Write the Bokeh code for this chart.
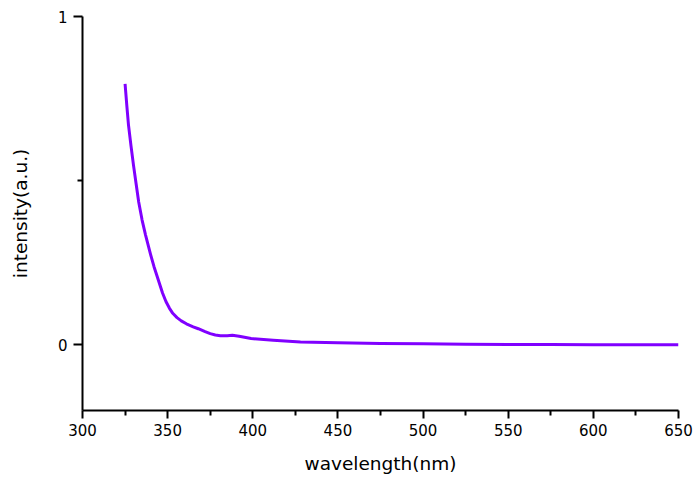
from bokeh.plotting import figure
from bokeh.models import Range1d, FixedTicker
from bokeh.embed import file_html
from bokeh.resources import INLINE

# data
wavelength = [325, 326, 327, 328.5, 330, 331.5, 333, 335, 337, 340, 342, 345, 347, 349,
              351, 353, 355.5, 358, 361, 365, 368, 372, 375, 378, 381, 385, 388, 392,
              399, 412, 428, 450, 475, 500, 525, 550, 575, 600, 625, 650]
intensity = [0.795, 0.73, 0.67, 0.605, 0.545, 0.49, 0.435, 0.38, 0.335, 0.275, 0.238,
             0.19, 0.158, 0.132, 0.112, 0.096, 0.083, 0.073, 0.064, 0.055, 0.049,
             0.040, 0.034, 0.030, 0.028, 0.028, 0.029, 0.026, 0.019, 0.014, 0.009,
             0.006, 0.004, 0.003, 0.002, 0.001, 0.001, 0.0005, 0.0003, 0.0]

x_ticks = [300, 350, 400, 450, 500, 550, 600, 650]
x_minor = [325, 375, 425, 475, 525, 575, 625]
y_ticks = [0, 1]
y_minor = [0.5]

FONT = "DejaVu Sans"

p = figure(width=695, height=478, output_backend="svg", toolbar_location=None,
           x_range=Range1d(300, 650), y_range=Range1d(-0.2, 1.0),
           min_border_left=82, min_border_right=17, min_border_top=16,
           min_border_bottom=68)
p.outline_line_color = None
p.xgrid.visible = False
p.ygrid.visible = False
p.background_fill_color = "white"
p.border_fill_color = "white"

p.line(wavelength, intensity, line_color="#8000ff", line_width=3, line_join="round")

p.xaxis.ticker = FixedTicker(ticks=x_ticks, minor_ticks=x_minor)
p.yaxis.ticker = FixedTicker(ticks=y_ticks, minor_ticks=y_minor)

for ax in (p.xaxis[0], p.yaxis[0]):
    ax.axis_line_width = 2
    ax.axis_line_color = "black"
    ax.major_tick_line_width = 2
    ax.minor_tick_line_width = 2
    ax.major_tick_in = 0
    ax.minor_tick_in = 0
    ax.minor_tick_out = 5
    ax.major_label_text_font = FONT
    ax.major_label_text_font_size = "15px"
    ax.major_label_text_color = "black"
    ax.axis_label_text_font = FONT
    ax.axis_label_text_font_size = "18.5px"
    ax.axis_label_text_font_style = "normal"
    ax.axis_label_text_color = "black"

p.xaxis.major_tick_out = 8
p.yaxis.major_tick_out = 9
p.xaxis.major_label_standoff = 5
p.yaxis.major_label_standoff = 6

p.xaxis.axis_label = "wavelength(nm)"
p.xaxis.axis_label_standoff = 14
p.yaxis.axis_label = "intensity(a.u.)"
p.yaxis.axis_label_standoff = 24

open("out.html", "w").write(file_html(p, INLINE))
